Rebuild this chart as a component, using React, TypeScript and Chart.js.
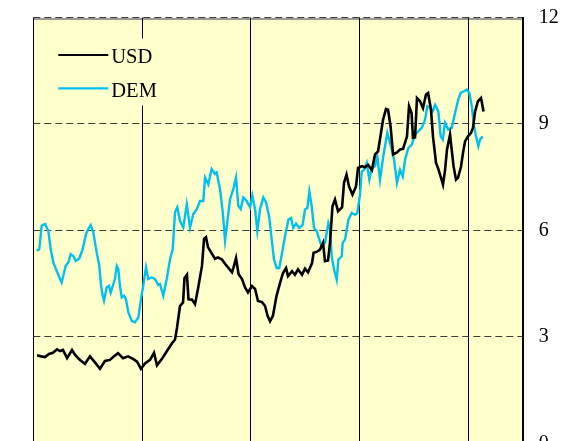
import React, { useEffect, useRef } from "react";
import { Chart, registerables } from "chart.js";

Chart.register(...registerables);

// time in years from the start of the sample
const usdTime = [0.034,0.071,0.108,0.144,0.181,0.218,0.246,0.273,0.310,0.356,0.383,0.429,0.475,0.521,0.567,0.613,0.659,0.705,0.742,0.779,0.825,0.871,0.917,0.954,0.990,1.027,1.073,1.110,1.137,1.183,1.229,1.275,1.303,1.321,1.349,1.377,1.390,1.413,1.427,1.459,1.487,1.514,1.551,1.570,1.588,1.606,1.643,1.671,1.698,1.735,1.763,1.790,1.827,1.841,1.864,1.887,1.919,1.947,1.974,2.011,2.039,2.066,2.103,2.131,2.154,2.177,2.204,2.236,2.269,2.296,2.324,2.342,2.379,2.406,2.434,2.471,2.498,2.526,2.563,2.577,2.609,2.636,2.664,2.682,2.710,2.728,2.751,2.774,2.802,2.839,2.857,2.880,2.903,2.935,2.967,2.986,3.023,3.050,3.078,3.114,3.142,3.170,3.197,3.216,3.243,3.262,3.285,3.308,3.344,3.372,3.400,3.436,3.455,3.478,3.491,3.510,3.528,3.556,3.583,3.611,3.630,3.657,3.675,3.703,3.721,3.749,3.767,3.786,3.804,3.832,3.850,3.864,3.887,3.905,3.933,3.951,3.970,3.997,4.025,4.043,4.062,4.089,4.117,4.140];
const usdValues = [2.48,2.45,2.43,2.52,2.55,2.65,2.60,2.63,2.40,2.63,2.50,2.35,2.24,2.45,2.28,2.10,2.32,2.35,2.45,2.54,2.40,2.45,2.38,2.30,2.10,2.25,2.35,2.55,2.20,2.38,2.60,2.82,2.92,3.25,3.87,3.97,4.65,4.75,4.06,4.05,3.92,4.35,5.00,5.76,5.81,5.53,5.34,5.20,5.24,5.18,5.06,4.96,4.82,4.95,5.22,4.77,4.63,4.39,4.25,4.43,4.35,4.01,3.98,3.87,3.59,3.44,3.60,4.15,4.52,4.80,4.94,4.71,4.85,4.75,4.90,4.75,4.92,4.82,5.08,5.37,5.40,5.46,5.65,5.13,5.15,5.65,6.68,6.87,6.54,6.65,7.34,7.57,7.24,7.01,7.24,7.76,7.81,7.78,7.85,7.70,8.14,8.23,8.75,9.12,9.42,9.40,8.93,8.14,8.20,8.28,8.30,8.65,9.50,9.31,8.61,8.62,9.73,9.64,9.45,9.83,9.87,9.40,8.65,7.90,7.76,7.48,7.29,7.70,8.28,8.70,8.20,7.81,7.43,7.48,7.80,8.18,8.51,8.65,8.75,8.89,9.35,9.64,9.73,9.35];

const demTime = [0.031,0.055,0.077,0.108,0.138,0.160,0.184,0.215,0.246,0.261,0.276,0.298,0.322,0.344,0.368,0.390,0.423,0.454,0.485,0.506,0.528,0.552,0.583,0.607,0.623,0.638,0.650,0.675,0.696,0.712,0.736,0.751,0.767,0.782,0.797,0.813,0.834,0.852,0.874,0.905,0.935,0.966,0.990,1.011,1.036,1.057,1.089,1.119,1.149,1.165,1.195,1.227,1.257,1.282,1.303,1.324,1.349,1.379,1.411,1.441,1.471,1.503,1.533,1.563,1.579,1.609,1.640,1.671,1.686,1.717,1.742,1.763,1.784,1.809,1.839,1.864,1.885,1.907,1.931,1.962,1.993,2.014,2.039,2.060,2.085,2.115,2.140,2.170,2.192,2.213,2.238,2.262,2.293,2.314,2.345,2.370,2.391,2.416,2.446,2.477,2.498,2.520,2.538,2.560,2.581,2.606,2.630,2.652,2.682,2.713,2.728,2.744,2.765,2.790,2.805,2.836,2.845,2.866,2.897,2.928,2.958,2.979,3.004,3.020,3.041,3.066,3.090,3.112,3.142,3.163,3.188,3.218,3.255,3.280,3.298,3.317,3.344,3.372,3.397,3.418,3.448,3.480,3.510,3.540,3.572,3.602,3.623,3.648,3.673,3.694,3.724,3.746,3.765,3.786,3.816,3.848,3.878,3.908,3.930,3.961,3.986,4.009,4.032,4.053,4.071,4.092,4.108,4.133];
const demValues = [5.43,5.47,6.13,6.18,5.99,5.47,5.10,4.86,4.63,4.53,4.72,5.00,5.10,5.33,5.28,5.14,5.21,5.47,5.90,6.04,6.15,5.94,5.38,5.00,4.44,4.16,4.02,4.39,4.44,4.25,4.49,4.63,5.00,4.91,4.44,4.11,4.16,4.06,3.69,3.45,3.41,3.55,4.06,4.44,4.96,4.63,4.68,4.63,4.46,4.49,4.16,4.63,5.19,5.47,6.51,6.65,6.27,6.08,6.74,6.08,6.46,6.60,6.83,6.83,7.49,7.30,7.73,7.59,7.63,7.16,6.51,5.71,6.23,6.88,7.16,7.49,6.69,6.60,6.93,6.83,6.65,6.98,6.60,5.99,6.60,6.93,6.79,6.37,5.74,5.18,4.94,4.94,5.46,5.83,6.30,6.35,6.07,6.19,6.07,6.16,6.59,6.63,7.10,6.68,6.07,5.98,5.74,5.55,5.65,6.21,6.07,5.27,4.90,4.61,5.18,5.27,5.65,5.74,6.30,6.49,6.44,6.49,7.01,7.66,7.71,7.90,7.43,7.76,7.81,8.09,7.43,8.09,8.75,8.46,8.27,7.99,7.34,7.71,7.52,7.99,8.32,8.42,8.70,8.79,8.89,9.12,9.50,9.45,9.36,9.54,9.36,8.65,8.56,9.03,8.84,8.89,9.31,9.69,9.88,9.92,9.97,9.88,9.50,8.93,8.65,8.37,8.56,8.65];

const seriesLabels = ["USD", "DEM"];
const seriesColors = ["#000000", "#00C0F0"];
const yTicks = [0, 3, 6, 9, 12];
const xYears = [0, 1, 2, 3, 4];

const FONT = "'Liberation Serif', 'Times New Roman', serif";

const areaBg = {
  id: "areaBg",
  beforeDraw(chart: any) {
    const { ctx, chartArea: a } = chart;
    ctx.save();
    ctx.fillStyle = "#FFFFCC";
    ctx.fillRect(a.left, a.top, a.right - a.left, a.bottom - a.top);
    ctx.strokeStyle = "#9a9a90";
    ctx.lineWidth = 2;
    ctx.beginPath();
    ctx.moveTo(a.left, Math.round(a.top) + 1);
    ctx.lineTo(a.right, Math.round(a.top) + 1);
    ctx.stroke();
    ctx.restore();
  },
};

const insideLegend = {
  id: "insideLegend",
  afterDraw(chart: any) {
    const { ctx, chartArea: a } = chart;
    const x0 = a.left + 25;
    const y0 = a.top + 37.5;
    ctx.save();
    ctx.fillStyle = "#FFFFCC";
    ctx.fillRect(a.left + 8, a.top + 21, 130, 67);
    chart.data.datasets.forEach((ds: any, i: number) => {
      const y = y0 + i * 33.3;
      ctx.strokeStyle = ds.borderColor;
      ctx.lineWidth = 2.2;
      ctx.beginPath();
      ctx.moveTo(x0, y);
      ctx.lineTo(x0 + 50, y);
      ctx.stroke();
      ctx.fillStyle = "#000";
      ctx.font = `20.5px ${FONT}`;
      ctx.textBaseline = "alphabetic";
      ctx.textAlign = "left";
      ctx.fillText(ds.label, x0 + 53, y + 8.3);
    });
    ctx.restore();
  },
};

export default function App() {
  const ref = useRef<HTMLCanvasElement>(null);
  useEffect(() => {
    if (!ref.current) return;
    const chart = new Chart(ref.current, {
      type: "line",
      data: {
        datasets: [
          {
            label: seriesLabels[0],
            data: usdTime.map((t, i) => ({ x: t, y: usdValues[i] })),
            borderColor: seriesColors[0],
            borderWidth: 2.6,
            pointRadius: 0,
            tension: 0,
          },
          {
            label: seriesLabels[1],
            data: demTime.map((t, i) => ({ x: t, y: demValues[i] })),
            borderColor: seriesColors[1],
            borderWidth: 2.4,
            pointRadius: 0,
            tension: 0,
          },
        ],
      },
      options: {
        animation: false,
        responsive: false,
        devicePixelRatio: 1,
        layout: { padding: { left: 33.3, top: 17.5, right: 0, bottom: 56.7 } },
        plugins: { legend: { display: false }, tooltip: { enabled: false }, title: { display: false } },
        scales: {
          x: {
            type: "linear",
            position: "bottom",
            min: 0,
            max: 4.5,
            afterBuildTicks: (s: any) => { s.ticks = xYears.map((v) => ({ value: v })); },
            ticks: { display: false },
            grid: { color: "#000", lineWidth: 1, drawTicks: false },
            border: { display: false },
            afterFit: (s: any) => { s.height = 0; s.paddingLeft = 0; s.paddingRight = 0; },
          },
          y: {
            type: "linear",
            position: "right",
            min: 0,
            max: 12,
            afterBuildTicks: (s: any) => { s.ticks = yTicks.map((v) => ({ value: v })); },
            ticks: { color: "#000", padding: 16, font: { family: FONT, size: 20 } },
            grid: { color: "#3c3c3c", lineWidth: 1, drawTicks: false },
            border: { display: true, color: "#000", width: 2, dash: [7, 4] },
            afterFit: (s: any) => { s.width = 38.3; s.paddingTop = 0; s.paddingBottom = 0; },
          },
        },
      },
      plugins: [areaBg, insideLegend],
    } as any);
    return () => chart.destroy();
  }, []);
  return (
    <div style={{ position: "fixed", left: 0, top: 0, width: 561, height: 441, overflow: "hidden", background: "#fff" }}>
      <canvas ref={ref} width={561} height={500} style={{ display: "block" }} />
    </div>
  );
}
